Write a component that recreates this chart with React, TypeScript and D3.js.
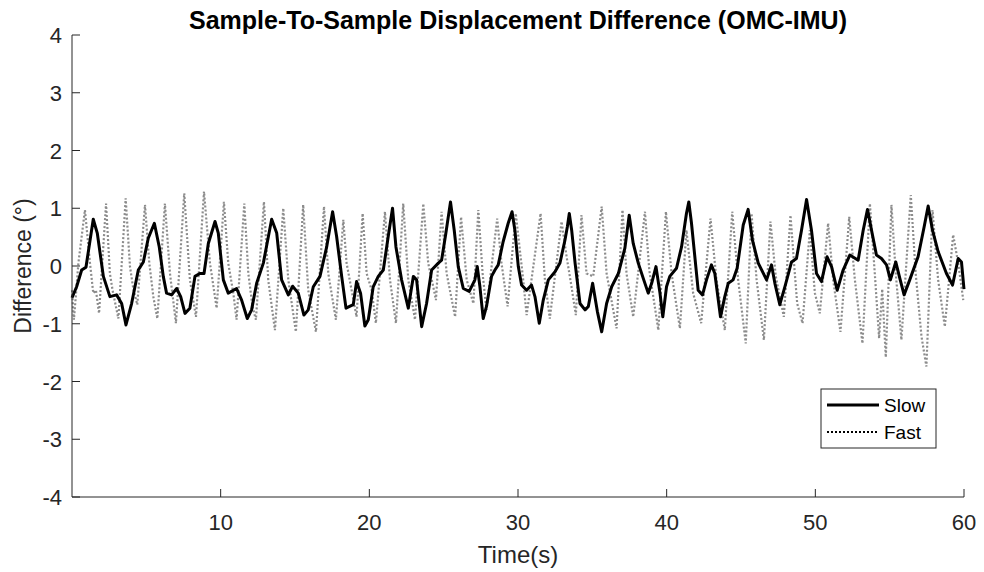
import React from 'react';
import * as d3 from 'd3';

// time (s) and difference (deg)
const slowT = [0, 0.31, 0.65, 0.94, 1.43, 1.7, 2.11, 2.55, 3.0, 3.34, 3.63, 4.01, 4.46, 4.8, 5.13, 5.54, 5.87, 6.14, 6.36, 6.7, 7.04, 7.31, 7.6, 7.93, 8.27, 8.6, 8.88, 9.17, 9.62, 9.84, 10.18, 10.51, 11.07, 11.41, 11.79, 12.08, 12.42, 12.87, 13.43, 13.77, 14.1, 14.55, 14.84, 15.22, 15.6, 15.89, 16.23, 16.68, 17.13, 17.53, 17.8, 18.14, 18.43, 18.92, 19.14, 19.41, 19.7, 19.93, 20.26, 20.6, 20.94, 21.27, 21.56, 21.79, 22.17, 22.62, 22.96, 23.18, 23.52, 23.85, 24.19, 24.64, 24.86, 25.15, 25.46, 25.71, 25.98, 26.32, 26.72, 27.1, 27.26, 27.44, 27.66, 27.88, 28.22, 28.45, 28.67, 29.0, 29.34, 29.6, 29.79, 30.02, 30.24, 30.58, 30.91, 31.14, 31.43, 31.7, 32.04, 32.49, 32.82, 33.16, 33.32, 33.45, 33.61, 33.84, 34.17, 34.51, 34.73, 35.02, 35.34, 35.63, 35.96, 36.3, 36.75, 37.19, 37.48, 37.75, 38.09, 38.42, 38.76, 38.99, 39.28, 39.55, 39.74, 39.99, 40.21, 40.66, 41.0, 41.33, 41.49, 41.67, 42.12, 42.41, 42.68, 43.01, 43.24, 43.62, 43.91, 44.14, 44.47, 44.74, 45.15, 45.48, 45.77, 46.16, 46.72, 47.05, 47.28, 47.61, 47.95, 48.4, 48.73, 49.07, 49.41, 49.74, 50.08, 50.41, 50.79, 51.09, 51.47, 51.87, 52.32, 52.88, 53.22, 53.51, 53.78, 54.11, 54.45, 54.79, 55.05, 55.41, 55.68, 55.97, 56.35, 56.91, 57.32, 57.59, 57.88, 58.26, 58.82, 59.23, 59.61, 59.83, 60.0];
const slowV = [-0.55, -0.36, -0.07, -0.02, 0.81, 0.57, -0.18, -0.53, -0.5, -0.65, -1.02, -0.65, -0.07, 0.07, 0.48, 0.74, 0.33, -0.18, -0.47, -0.5, -0.39, -0.53, -0.82, -0.73, -0.18, -0.13, -0.13, 0.39, 0.77, 0.57, -0.24, -0.47, -0.39, -0.59, -0.91, -0.76, -0.3, 0.05, 0.81, 0.57, -0.24, -0.5, -0.35, -0.47, -0.85, -0.76, -0.36, -0.18, 0.33, 0.94, 0.51, -0.18, -0.73, -0.67, -0.27, -0.47, -1.04, -0.93, -0.36, -0.18, -0.07, 0.51, 1.0, 0.33, -0.24, -0.73, -0.18, -0.24, -1.05, -0.65, -0.07, 0.05, 0.1, 0.57, 1.11, 0.62, -0.01, -0.39, -0.44, -0.24, -0.01, -0.36, -0.91, -0.7, -0.18, -0.07, 0.02, 0.42, 0.74, 0.94, 0.62, -0.01, -0.33, -0.42, -0.33, -0.53, -0.99, -0.59, -0.24, -0.1, 0.05, 0.45, 0.68, 0.91, 0.62, 0.05, -0.65, -0.76, -0.7, -0.3, -0.79, -1.14, -0.65, -0.36, -0.13, 0.31, 0.88, 0.39, 0.05, -0.21, -0.47, -0.3, -0.01, -0.47, -0.88, -0.36, -0.18, -0.04, 0.33, 0.91, 1.11, 0.74, -0.42, -0.5, -0.24, 0.02, -0.13, -0.88, -0.53, -0.3, -0.24, -0.04, 0.71, 0.98, 0.45, 0.05, -0.24, 0.02, -0.3, -0.67, -0.36, 0.07, 0.13, 0.62, 1.15, 0.62, -0.13, -0.27, 0.16, -0.01, -0.42, -0.07, 0.19, 0.1, 0.62, 0.98, 0.62, 0.19, 0.13, 0.02, -0.24, 0.07, -0.21, -0.5, -0.24, 0.16, 0.68, 1.04, 0.62, 0.25, -0.13, -0.33, 0.13, 0.07, -0.4];

const fastT = [0, 0.13, 0.43, 0.87, 1.21, 1.43, 1.61, 1.82, 2.29, 2.55, 2.73, 3.12, 3.61, 3.9, 4.12, 4.39, 4.91, 5.2, 5.47, 5.74, 6.25, 6.59, 6.99, 7.55, 7.93, 8.34, 8.88, 9.28, 9.73, 10.22, 10.51, 10.85, 11.07, 11.59, 11.86, 12.14, 12.37, 12.91, 13.2, 13.65, 14.21, 14.55, 15.06, 15.55, 15.89, 16.41, 16.95, 17.24, 17.75, 18.25, 18.47, 19.14, 19.55, 19.82, 20.16, 20.44, 21.05, 21.39, 21.79, 22.28, 22.62, 23.07, 23.63, 23.96, 24.3, 24.48, 24.86, 25.2, 25.77, 26.17, 26.55, 27.0, 27.33, 27.62, 27.88, 28.6, 28.89, 29.3, 29.85, 30.35, 30.58, 31.52, 31.81, 32.14, 32.93, 33.27, 33.6, 33.89, 34.27, 34.61, 35.06, 35.63, 35.96, 36.63, 37.03, 37.3, 37.75, 38.54, 38.83, 39.44, 39.95, 40.33, 40.89, 41.33, 41.78, 42.32, 42.95, 43.35, 43.91, 44.41, 44.81, 45.32, 45.71, 46.05, 46.54, 46.98, 47.34, 47.88, 48.33, 48.62, 48.78, 49.14, 49.63, 49.97, 50.3, 50.86, 51.2, 51.69, 52.28, 52.66, 53.17, 53.67, 54.0, 54.29, 54.5, 54.74, 55.12, 55.41, 55.79, 56.42, 56.75, 57.14, 57.47, 57.88, 58.26, 58.71, 59.27, 59.61, 59.95];
const fastV = [-0.42, -0.93, 0.05, 0.97, 0.05, -0.47, -0.42, -0.82, 1.08, -0.13, -0.42, -0.91, 1.17, -0.01, -0.39, -0.67, 1.06, 0.05, -0.53, -0.91, 1.08, -0.13, -0.99, 1.26, -0.24, -0.88, 1.29, 0.05, -0.73, 1.11, 0.05, -0.47, -0.93, 1.08, -0.13, -0.7, -0.93, 1.11, -0.24, -1.11, 1.0, -0.24, -1.14, 1.06, -0.42, -1.14, 1.03, -0.13, -0.93, 0.8, 0.05, -0.88, 0.91, -0.13, -0.42, -0.99, 0.94, -0.24, -0.99, 1.08, -0.24, -0.93, 1.08, 0.05, -0.36, -0.59, 0.94, -0.13, -0.88, 0.85, -0.24, -0.65, 0.97, -0.13, -0.76, 0.82, 0.05, -0.7, 0.91, -0.24, -0.85, 0.91, -0.24, -0.91, 0.77, 0.16, -0.36, -0.85, 0.88, -0.13, -0.18, 1.03, -0.13, -1.08, 0.97, -0.13, -0.88, 0.94, -0.07, -1.11, 0.94, -0.13, -1.08, 0.62, -0.47, -0.99, 0.82, -0.24, -1.11, 0.94, -0.24, -1.34, 0.91, -0.24, -1.28, 0.77, -0.18, -0.88, 0.88, -0.13, -0.65, -0.99, 0.62, -0.47, -0.82, 0.74, -0.24, -1.14, 0.85, -0.24, -1.34, 1.08, -0.13, -1.25, -0.4, -1.58, 1.06, -0.13, -1.28, 1.23, -0.13, -1.22, -1.74, 0.97, -0.24, -1.05, 0.54, 0.05, -0.59];

const xTicks = [10, 20, 30, 40, 50, 60];
const yTicks = [-4, -3, -2, -1, 0, 1, 2, 3, 4];
const titleText = 'Sample-To-Sample Displacement Difference (OMC-IMU)';
const seriesNames = ['Slow', 'Fast'];

const W = 984;
const H = 572;
const margin = { top: 35, right: 20, bottom: 75, left: 72 };
const font = '"Liberation Sans", Arial, sans-serif';

export default function App() {
  const x = d3.scaleLinear().domain([0, 60]).range([margin.left, W - margin.right]);
  const y = d3.scaleLinear().domain([-4, 4]).range([H - margin.bottom, margin.top]);

  const mk = (ts: number[], vs: number[]) =>
    d3.line<number>()
      .x((_, i) => x(ts[i]))
      .y(d => y(d))(vs) || '';

  const slowPath = mk(slowT, slowV);
  const fastPath = mk(fastT, fastV);

  const x0 = x(0), x1 = x(60), yb = y(-4), yt = y(4);
  const tickLen = 8;
  const axisCol = '#262626';

  const lg = { x: 821, y: 389, w: 115, h: 59 };

  return (
    <div style={{ position: 'fixed', left: 0, top: 0 }}>
      <svg width={W} height={H} style={{ display: 'block', background: '#fff' }} fontFamily={font}>
        <path d={fastPath} fill="none" stroke="#8c8c8c" strokeWidth={2.2} strokeDasharray="2,2" />
        <path d={slowPath} fill="none" stroke="#000" strokeWidth={3} strokeLinejoin="round" />

        {/* axes */}
        <line x1={x0} x2={x1} y1={yb} y2={yb} stroke={axisCol} strokeWidth={1} />
        <line x1={x0} x2={x0} y1={yb} y2={yt} stroke={axisCol} strokeWidth={1} />
        {xTicks.map(t => (
          <g key={t}>
            <line x1={x(t)} x2={x(t)} y1={yb} y2={yb - tickLen} stroke={axisCol} />
            <text x={x(t)} y={yb + 33} textAnchor="middle" fontSize={22} fill="#262626">{t}</text>
          </g>
        ))}
        {yTicks.map(t => (
          <g key={t}>
            <line x1={x0} x2={x0 + tickLen} y1={y(t)} y2={y(t)} stroke={axisCol} />
            <text x={x0 - 10} y={y(t) + 8} textAnchor="end" fontSize={22} fill="#262626">{t}</text>
          </g>
        ))}

        <text x={(x0 + x1) / 2} y={29} textAnchor="middle" fontSize={25} fontWeight="bold" fill="#000">{titleText}</text>
        <text x={(x0 + x1) / 2} y={563} textAnchor="middle" fontSize={24} fill="#262626">Time(s)</text>
        <text transform={`translate(31,${(yb + yt) / 2}) rotate(-90)`} textAnchor="middle" fontSize={23} fill="#262626">Difference (°)</text>

        {/* legend */}
        <rect x={lg.x} y={lg.y} width={lg.w} height={lg.h} fill="#fff" stroke={axisCol} strokeWidth={1} />
        <line x1={827} x2={879} y1={405} y2={405} stroke="#000" strokeWidth={3} />
        <line x1={827} x2={879} y1={432} y2={432} stroke="#000" strokeWidth={2} strokeDasharray="2,2" />
        <text x={884} y={412} fontSize={19} fill="#000">{seriesNames[0]}</text>
        <text x={884} y={439} fontSize={19} fill="#000">{seriesNames[1]}</text>
      </svg>
    </div>
  );
}
